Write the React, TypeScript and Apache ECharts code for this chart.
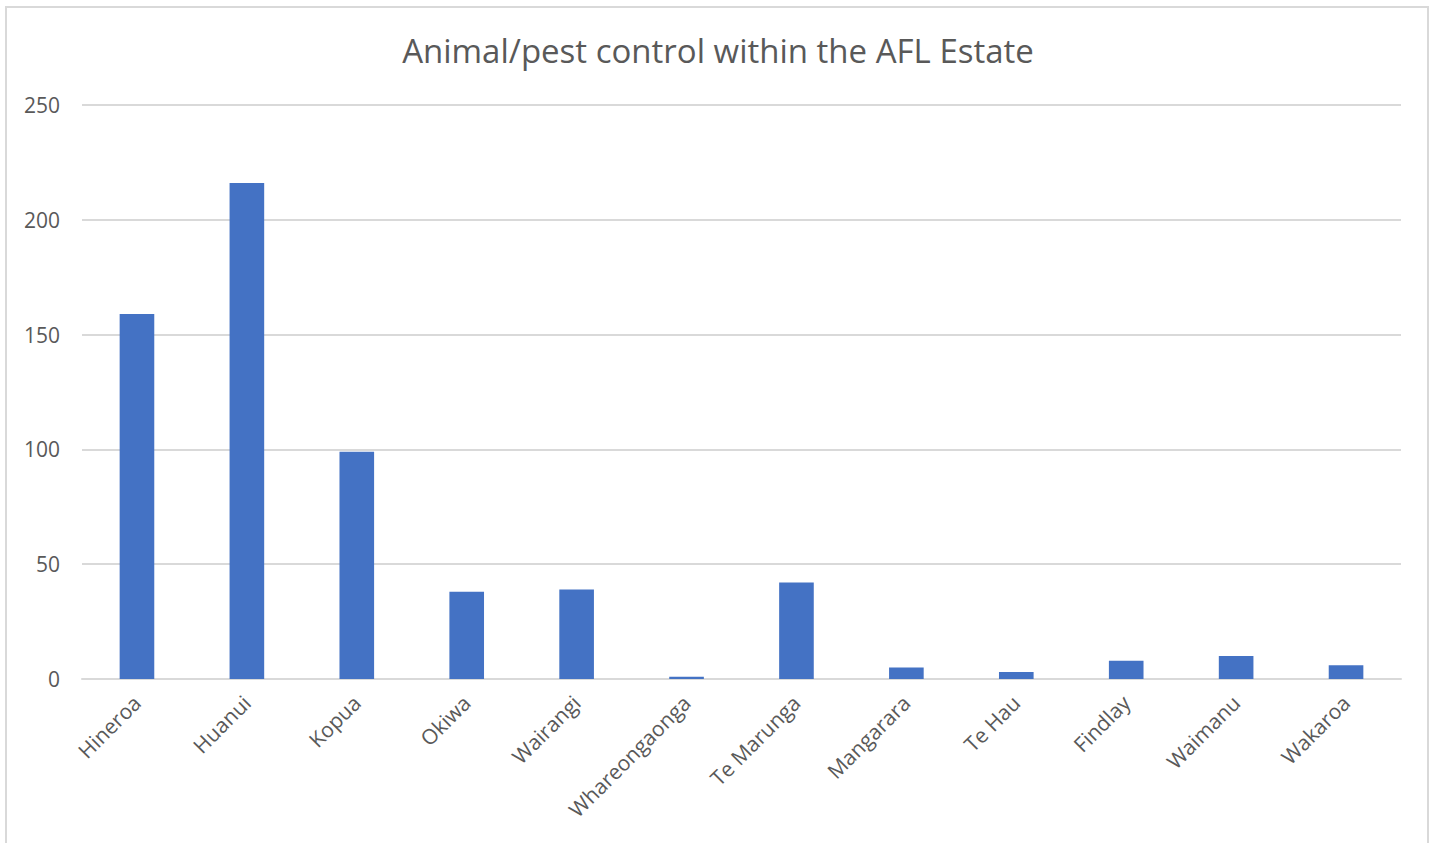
import React, { useEffect, useRef } from "react";
import * as echarts from "echarts";

const categories = [
  "Hineroa", "Huanui", "Kopua", "Okiwa", "Wairangi", "Whareongaonga",
  "Te Marunga", "Mangarara", "Te Hau", "Findlay", "Waimanu", "Wakaroa",
];
const values = [159, 216, 99, 38, 39, 1, 42, 5, 3, 8, 10, 6];
const titleText = "Animal/pest control within the AFL Estate";

export default function App() {
  const ref = useRef<HTMLDivElement>(null);
  useEffect(() => {
    if (!ref.current) return;
    const chart = echarts.init(ref.current, null, { renderer: "svg" });
    const font = "'Open Sans', 'Noto Sans', sans-serif";
    chart.setOption({
      animation: false,
      textStyle: { fontFamily: font },
      title: {
        text: titleText,
        left: "center",
        top: 29,
        textStyle: { fontFamily: font, fontSize: 33, fontWeight: "normal", color: "#595959" },
      },
      grid: { left: 82, right: 35, top: 105, bottom: 164, containLabel: false },
      xAxis: {
        type: "category",
        data: categories,
        axisLine: { lineStyle: { color: "#d9d9d9", width: 2 } },
        axisTick: { show: false },
        axisLabel: { rotate: 45, color: "#595959", fontSize: 21, fontFamily: font, margin: 20, interval: 0 },
      },
      yAxis: {
        type: "value",
        min: 0,
        max: 250,
        interval: 50,
        axisLine: { show: false },
        axisTick: { show: false },
        splitLine: { lineStyle: { color: "#d9d9d9", width: 2 } },
        axisLabel: { color: "#595959", fontSize: 21, fontFamily: font, margin: 22 },
      },
      series: [
        {
          type: "bar",
          data: values,
          barWidth: "31.5%",
          itemStyle: { color: "#4472C4" },
        },
      ],
    });
    return () => chart.dispose();
  }, []);
  return (
    <div style={{ position: "fixed", left: 0, top: 0, width: 1436, height: 843, background: "#fff" }}>
      <div style={{ position: "absolute", left: 5, top: 6, width: 1424, height: 850, border: "2px solid #d9d9d9", boxSizing: "border-box" }} />
      <div ref={ref} style={{ position: "absolute", left: 0, top: 0, width: 1436, height: 843 }} />
    </div>
  );
}
